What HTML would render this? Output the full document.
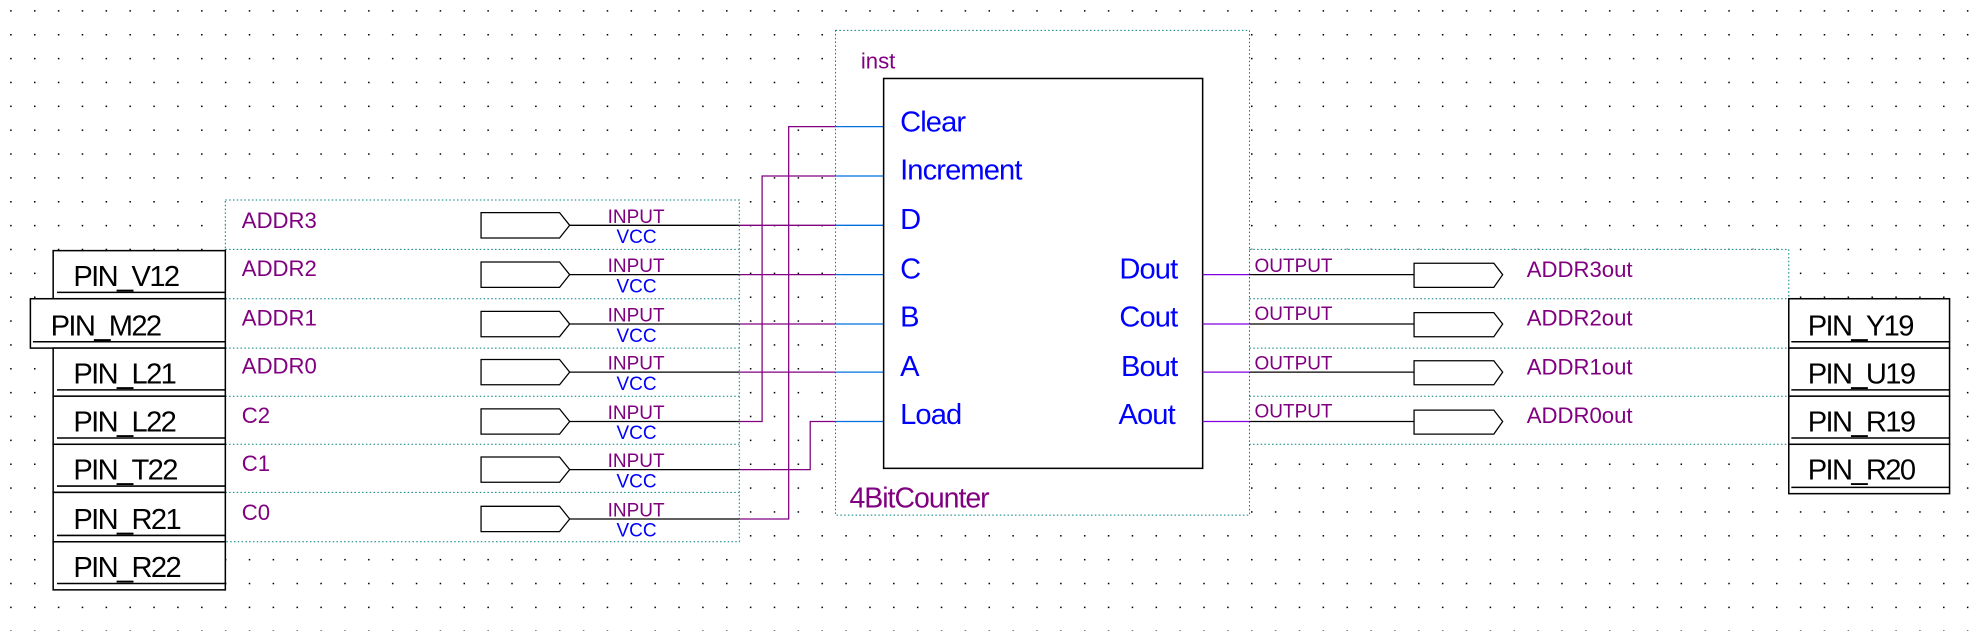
<!DOCTYPE html>
<html><head><meta charset="utf-8"><style>
html,body{margin:0;padding:0;background:#fff;width:1985px;height:631px;overflow:hidden}
svg{display:block}
text{font-family:"Liberation Sans",Arial,sans-serif}
.p{fill:#800080}.b{fill:#0000ff}.k{fill:#000}
</style></head><body>
<svg width="1985" height="631" viewBox="0 0 1568 498.5" preserveAspectRatio="none" xmlns="http://www.w3.org/2000/svg">
<defs>
<pattern id="g" x="8" y="8" width="18.85" height="18.85" patternUnits="userSpaceOnUse">
<rect x="0" y="0" width="1.2" height="1.2" fill="#000"/>
</pattern>
</defs>
<rect width="1568" height="498.5" fill="#fff"/>
<rect width="1568" height="498.5" fill="url(#g)"/>

<rect x="178" y="158" width="406" height="270" fill="#fff"/>
<g stroke="#008080" stroke-width="0.8" stroke-dasharray="1.2,1.8" fill="none">
<path d="M178 158H584V428H178Z M178 197H584 M178 236H584 M178 275H584 M178 313H584 M178 351H584 M178 389H584"/>
</g>
<rect x="660" y="24" width="327" height="383" fill="#fff" stroke="#008080" stroke-width="0.8" stroke-dasharray="1.2,1.8"/>
<rect x="987" y="197" width="426" height="154" fill="#fff"/>
<path d="M987 197H1413V351H987Z M987 236H1413 M987 275H1413 M987 313H1413" stroke="#008080" stroke-width="0.8" stroke-dasharray="1.2,1.8" fill="none"/>

<g stroke="#000" stroke-width="1.2" fill="#fff">
<rect x="42" y="198" width="136" height="38"/>
<rect x="24" y="236" width="154" height="39"/>
<rect x="42" y="275" width="136" height="38"/>
<rect x="42" y="313" width="136" height="38"/>
<rect x="42" y="351" width="136" height="38"/>
<rect x="42" y="389" width="136" height="39"/>
<rect x="42" y="428" width="136" height="38"/>
<path d="M45 231H178 M26 270H178 M45 308H178 M45 346H178 M45 384H178 M45 423H178 M45 461H178" fill="none"/>
</g>
<g class="k" font-size="23" letter-spacing="-1.3">
<text x="58" y="226">PIN_V12</text>
<text x="40" y="265">PIN_M22</text>
<text x="58" y="303">PIN_L21</text>
<text x="58" y="341">PIN_L22</text>
<text x="58" y="379">PIN_T22</text>
<text x="58" y="418">PIN_R21</text>
<text x="58" y="456">PIN_R22</text>
</g>

<g stroke="#000" stroke-width="1.2" fill="#fff">
<rect x="1413" y="236" width="127" height="39"/>
<rect x="1413" y="275" width="127" height="38"/>
<rect x="1413" y="313" width="127" height="38"/>
<rect x="1413" y="351" width="127" height="39"/>
<path d="M1415 270H1540 M1415 308H1540 M1415 346H1540 M1415 385H1540" fill="none"/>
</g>
<g class="k" font-size="23" letter-spacing="-1.3">
<text x="1428" y="265">PIN_Y19</text>
<text x="1428" y="303">PIN_U19</text>
<text x="1428" y="341">PIN_R19</text>
<text x="1428" y="379">PIN_R20</text>
</g>

<g stroke="#000" stroke-width="1" fill="#fff">
<path d="M380 168H442L450 178L442 188H380Z"/>
<path d="M380 207H442L450 217L442 227H380Z"/>
<path d="M380 246H442L450 256L442 266H380Z"/>
<path d="M380 284H442L450 294L442 304H380Z"/>
<path d="M380 323H442L450 333L442 343H380Z"/>
<path d="M380 361H442L450 371L442 381H380Z"/>
<path d="M380 400H442L450 410L442 420H380Z"/>
<path d="M450 178H584 M450 217H584 M450 256H584 M450 294H584 M450 333H584 M450 371H584 M450 410H584" fill="none"/>
</g>
<g class="p" font-size="17.5">
<text x="191" y="180">ADDR3</text>
<text x="191" y="218">ADDR2</text>
<text x="191" y="257">ADDR1</text>
<text x="191" y="295">ADDR0</text>
<text x="191" y="334">C2</text>
<text x="191" y="372">C1</text>
<text x="191" y="411">C0</text>
</g>
<g font-size="15">
<text class="p" x="480" y="176">INPUT</text><text class="b" x="487" y="192">VCC</text>
<text class="p" x="480" y="215">INPUT</text><text class="b" x="487" y="231">VCC</text>
<text class="p" x="480" y="254">INPUT</text><text class="b" x="487" y="270">VCC</text>
<text class="p" x="480" y="292">INPUT</text><text class="b" x="487" y="308">VCC</text>
<text class="p" x="480" y="331">INPUT</text><text class="b" x="487" y="347">VCC</text>
<text class="p" x="480" y="369">INPUT</text><text class="b" x="487" y="385">VCC</text>
<text class="p" x="480" y="408">INPUT</text><text class="b" x="487" y="424">VCC</text>
</g>

<g stroke="#800080" stroke-width="1" fill="none">
<path d="M584 178H660 M584 217H660 M584 256H660 M584 294H660"/>
<path d="M584 333H602V139H660"/>
<path d="M584 371H640V333H660"/>
<path d="M584 410H623V100H660"/>
</g>
<g stroke="#0070e0" stroke-width="1" fill="none">
<path d="M660 100H698 M660 139H698 M660 178H698 M660 217H698 M660 256H698 M660 294H698 M660 333H698"/>
</g>

<rect x="698" y="62" width="252" height="308" fill="#fff" stroke="#000" stroke-width="1.2"/>
<text class="p" x="680" y="54" font-size="17.5">inst</text>
<g class="b" font-size="23" letter-spacing="-0.7">
<text x="711" y="104">Clear</text>
<text x="711" y="142">Increment</text>
<text x="711" y="181">D</text>
<text x="711" y="220">C</text>
<text x="711" y="258">B</text>
<text x="711" y="297">A</text>
<text x="711" y="335">Load</text>
<text x="930" y="220" text-anchor="end">Dout</text>
<text x="930" y="258" text-anchor="end">Cout</text>
<text x="930" y="297" text-anchor="end">Bout</text>
<text x="928" y="335" text-anchor="end">Aout</text>
</g>
<text class="p" x="671" y="401" font-size="22.5" letter-spacing="-0.8">4BitCounter</text>

<g stroke="#8000e0" stroke-width="1" fill="none">
<path d="M950 217H987 M950 256H987 M950 294H987 M950 333H987"/>
</g>
<g stroke="#000" stroke-width="1" fill="#fff">
<path d="M987 217H1117 M987 256H1117 M987 294H1117 M987 333H1117" fill="none"/>
<path d="M1117 208H1180L1187 217L1180 227H1117Z"/>
<path d="M1117 247H1180L1187 256L1180 266H1117Z"/>
<path d="M1117 285H1180L1187 294L1180 304H1117Z"/>
<path d="M1117 324H1180L1187 333L1180 343H1117Z"/>
</g>
<g class="p" font-size="15">
<text x="991" y="215">OUTPUT</text>
<text x="991" y="253">OUTPUT</text>
<text x="991" y="292">OUTPUT</text>
<text x="991" y="330">OUTPUT</text>
</g>
<g class="p" font-size="17.5">
<text x="1206" y="219">ADDR3out</text>
<text x="1206" y="257">ADDR2out</text>
<text x="1206" y="296">ADDR1out</text>
<text x="1206" y="334">ADDR0out</text>
</g>
</svg>
</body></html>
